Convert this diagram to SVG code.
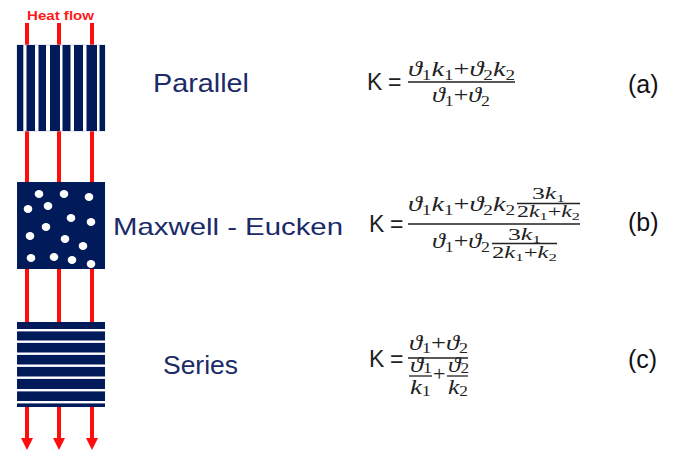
<svg xmlns="http://www.w3.org/2000/svg" width="677" height="450" viewBox="0 0 677 450">
<style>
.navy{fill:#001a5a}
.lbl{font-family:"Liberation Sans",Arial,sans-serif;fill:#1b2a68}
.tag{font-family:"Liberation Sans",Arial,sans-serif;font-size:25px;fill:#111}
.K{font-family:"Liberation Sans",Arial,sans-serif;font-size:23px;fill:#222}
.m{font-family:"Liberation Serif","DejaVu Serif",serif;font-size:22px;font-style:italic;fill:#222}
.ms{font-family:"Liberation Serif","DejaVu Serif",serif;font-size:16px;font-style:italic;fill:#222}
.s{font-size:0.68em;font-style:normal}
.n{font-style:normal}
.bar{stroke:#222;stroke-width:1.3}
.red{stroke:#ff0d0d;stroke-width:4;fill:none}
</style>
<defs>
<marker id="ah" viewBox="0 0 12 12" markerWidth="12" markerHeight="12" refX="1" refY="6" markerUnits="userSpaceOnUse" orient="auto">
<path d="M0,0 L12,6 L0,12 Z" fill="#ff0d0d"/>
</marker>
</defs>

<g id="connectors">
<line class="red" x1="27" y1="23" x2="27" y2="46"/>
<line class="red" x1="59" y1="23" x2="59" y2="46"/>
<line class="red" x1="92" y1="23" x2="92" y2="46"/>
<line class="red" x1="27" y1="130" x2="27" y2="184"/>
<line class="red" x1="59" y1="130" x2="59" y2="184"/>
<line class="red" x1="92" y1="130" x2="92" y2="184"/>
<line class="red" x1="27" y1="268" x2="27" y2="323"/>
<line class="red" x1="59" y1="268" x2="59" y2="323"/>
<line class="red" x1="92" y1="268" x2="92" y2="323"/>
<path class="red" d="M27,406 V439" marker-end="url(#ah)"/>
<path class="red" d="M59,406 V439" marker-end="url(#ah)"/>
<path class="red" d="M92,406 V439" marker-end="url(#ah)"/>
</g>

<g id="heat-flow-label">
<text x="27" y="20" font-family="Liberation Sans,Arial,sans-serif" font-weight="bold" font-size="12" fill="#ff1a1a" textLength="67" lengthAdjust="spacingAndGlyphs">Heat flow</text>
</g>

<g id="parallel-sample">
<rect x="17" y="45" width="88" height="86" fill="#fff" stroke="#c5cbe0" stroke-width="0.8"/>
<rect class="navy" x="17" y="45" width="6.3" height="86"/>
<rect class="navy" x="26.5" y="45" width="8.5" height="86"/>
<rect class="navy" x="38.5" y="45" width="7.5" height="86"/>
<rect class="navy" x="50" y="45" width="10" height="86"/>
<rect class="navy" x="62.5" y="45" width="8" height="86"/>
<rect class="navy" x="74" y="45" width="9" height="86"/>
<rect class="navy" x="86.5" y="45" width="10.5" height="86"/>
<rect class="navy" x="99.5" y="45" width="5.5" height="86"/>
</g>

<g id="maxwell-sample">
<rect class="navy" x="17" y="182" width="88" height="87"/>
<g fill="#fff">
<ellipse cx="39" cy="194" rx="4.3" ry="4"/>
<ellipse cx="64" cy="194" rx="4.3" ry="4"/>
<ellipse cx="89" cy="197" rx="4.3" ry="4"/>
<ellipse cx="28" cy="209" rx="4.3" ry="4"/>
<ellipse cx="48" cy="206" rx="4.3" ry="4"/>
<ellipse cx="71" cy="218" rx="4.3" ry="4"/>
<ellipse cx="91" cy="222" rx="4.3" ry="4"/>
<ellipse cx="46" cy="227" rx="4.3" ry="4"/>
<ellipse cx="30" cy="236" rx="4.3" ry="4"/>
<ellipse cx="65" cy="239" rx="4.3" ry="4"/>
<ellipse cx="83" cy="246" rx="4.3" ry="4"/>
<ellipse cx="31" cy="258" rx="4.3" ry="4"/>
<ellipse cx="54" cy="257" rx="4.3" ry="4"/>
<ellipse cx="72" cy="260" rx="4.3" ry="4"/>
<ellipse cx="91" cy="264" rx="4.3" ry="4"/>
</g>
</g>

<g id="series-sample">
<rect class="navy" x="17" y="322" width="88" height="85"/>
<g fill="#fff">
<rect x="17" y="329" width="88" height="2.4"/>
<rect x="17" y="340.5" width="88" height="2.4"/>
<rect x="17" y="352.5" width="88" height="2.4"/>
<rect x="17" y="364.5" width="88" height="2.4"/>
<rect x="17" y="376.5" width="88" height="2.4"/>
<rect x="17" y="389" width="88" height="2.4"/>
<rect x="17" y="401" width="88" height="2.4"/>
</g>
</g>

<g id="label-parallel"><text class="lbl" x="153" y="92" font-size="25" textLength="96" lengthAdjust="spacingAndGlyphs">Parallel</text></g>
<g id="label-maxwell"><text class="lbl" x="113" y="235" font-size="24" textLength="230" lengthAdjust="spacingAndGlyphs">Maxwell - Eucken</text></g>
<g id="label-series"><text class="lbl" x="163" y="374" font-size="25" textLength="75" lengthAdjust="spacingAndGlyphs">Series</text></g>

<g id="formula-a">
<text class="K" x="367" y="90">K</text>
<text class="K" x="388" y="90">=</text>
<line class="bar" x1="408" y1="82" x2="515" y2="82"/>
<text class="m" x="408" y="76" textLength="107" lengthAdjust="spacingAndGlyphs">ϑ<tspan class="s" dy="4">1</tspan><tspan dy="-4">k</tspan><tspan class="s" dy="4">1</tspan><tspan class="n" dy="-4">+</tspan>ϑ<tspan class="s" dy="4">2</tspan><tspan dy="-4">k</tspan><tspan class="s" dy="4">2</tspan></text>
<text class="m" x="432" y="102" textLength="58" lengthAdjust="spacingAndGlyphs">ϑ<tspan class="s" dy="4">1</tspan><tspan class="n" dy="-4">+</tspan>ϑ<tspan class="s" dy="4">2</tspan></text>
</g>

<g id="formula-b">
<text class="K" x="369" y="232">K</text>
<text class="K" x="390" y="232">=</text>
<line class="bar" x1="408" y1="224" x2="580" y2="224"/>
<text class="m" x="408" y="211" textLength="107" lengthAdjust="spacingAndGlyphs">ϑ<tspan class="s" dy="4">1</tspan><tspan dy="-4">k</tspan><tspan class="s" dy="4">1</tspan><tspan class="n" dy="-4">+</tspan>ϑ<tspan class="s" dy="4">2</tspan><tspan dy="-4">k</tspan><tspan class="s" dy="4">2</tspan></text>
<line class="bar" x1="517" y1="203.5" x2="580" y2="203.5"/>
<text class="ms" x="532" y="199" textLength="33" lengthAdjust="spacingAndGlyphs"><tspan class="n">3</tspan>k<tspan class="s" dy="3">1</tspan></text>
<text class="ms" x="517" y="217" textLength="63" lengthAdjust="spacingAndGlyphs"><tspan class="n">2</tspan>k<tspan class="s" dy="3">1</tspan><tspan class="n" dy="-3">+</tspan>k<tspan class="s" dy="3">2</tspan></text>
<text class="m" x="432" y="248" textLength="58" lengthAdjust="spacingAndGlyphs">ϑ<tspan class="s" dy="4">1</tspan><tspan class="n" dy="-4">+</tspan>ϑ<tspan class="s" dy="4">2</tspan></text>
<line class="bar" x1="492" y1="243.5" x2="557" y2="243.5"/>
<text class="ms" x="508" y="240" textLength="33" lengthAdjust="spacingAndGlyphs"><tspan class="n">3</tspan>k<tspan class="s" dy="3">1</tspan></text>
<text class="ms" x="492" y="258" textLength="65" lengthAdjust="spacingAndGlyphs"><tspan class="n">2</tspan>k<tspan class="s" dy="3">1</tspan><tspan class="n" dy="-3">+</tspan>k<tspan class="s" dy="3">2</tspan></text>
</g>

<g id="formula-c">
<text class="K" x="369" y="367">K</text>
<text class="K" x="390" y="367">=</text>
<line class="bar" x1="408" y1="358" x2="468" y2="358"/>
<text class="m" x="409" y="350" font-size="21" textLength="59" lengthAdjust="spacingAndGlyphs">ϑ<tspan class="s" dy="3">1</tspan><tspan class="n" dy="-3">+</tspan>ϑ<tspan class="s" dy="3">2</tspan></text>
<line class="bar" x1="409" y1="376" x2="432" y2="376"/>
<line class="bar" x1="447" y1="376" x2="468" y2="376"/>
<text class="m" x="410" y="372" font-size="16" textLength="22" lengthAdjust="spacingAndGlyphs">ϑ<tspan class="s" dy="1">1</tspan></text>
<text class="m" x="448" y="372" font-size="16" textLength="21" lengthAdjust="spacingAndGlyphs">ϑ<tspan class="s" dy="1">2</tspan></text>
<text class="m" x="410" y="394" font-size="16" textLength="21" lengthAdjust="spacingAndGlyphs">k<tspan class="s" dy="2">1</tspan></text>
<text class="m" x="448" y="394" font-size="16" textLength="20" lengthAdjust="spacingAndGlyphs">k<tspan class="s" dy="2">2</tspan></text>
<text class="m n" x="433" y="381" font-size="19" font-style="normal">+</text>
</g>

<g id="tags">
<text class="tag" x="628" y="93">(a)</text>
<text class="tag" x="628" y="231">(b)</text>
<text class="tag" x="628" y="368">(c)</text>
</g>
</svg>
